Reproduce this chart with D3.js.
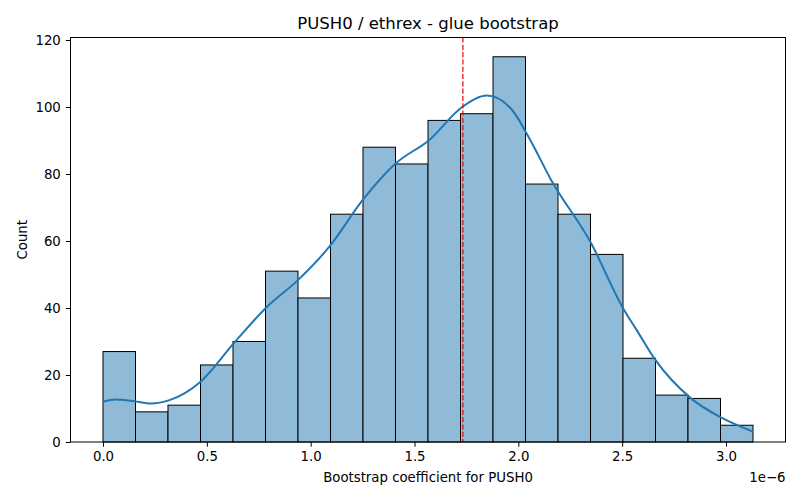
<!DOCTYPE html>
<html>
<head>
<meta charset="utf-8">
<script src="https://cdn.jsdelivr.net/npm/d3@7"></script>
<style>
  body { margin: 0; background: #fff; }
  svg { font-family: "DejaVu Sans", sans-serif; }
</style>
</head>
<body>
<svg id="chart" width="800" height="500"></svg>
<script>
// Histogram counts (x in units of 1e-6)
let binStart = 0.0;
let binWidth = 0.1565;
let binCounts = [27, 9, 11, 23, 30, 51, 43, 68, 88, 83, 96, 98, 115, 77, 68, 56, 25, 14, 13, 5];

// KDE curve (x, count)
let kdeX = [0.0, 0.06, 0.15, 0.23, 0.32, 0.47, 0.63, 0.79, 0.94, 1.09, 1.25, 1.41, 1.57, 1.73, 1.85, 1.97, 2.05, 2.16, 2.35, 2.50, 2.57, 2.66, 2.83, 2.98, 3.13];
let kdeY = [12.0, 12.7, 12.2, 11.5, 12.5, 18.0, 29.5, 40.4, 48.4, 58.3, 72.2, 83.2, 90.1, 100.0, 103.4, 99.1, 91.0, 78.0, 59.4, 40.4, 33.4, 24.5, 13.1, 7.2, 3.1];

// Reference line (mean)
let meanValue = 1.733;

let xTicks = [0.0, 0.5, 1.0, 1.5, 2.0, 2.5, 3.0];
let yTicks = [0, 20, 40, 60, 80, 100, 120];

let drawChart = () => {
    let margin = { top: 37.5, right: 14.5, bottom: 58, left: 70.5 };
    let width = 800 - margin.left - margin.right;
    let height = 500 - margin.top - margin.bottom;

    let svg = d3.select('#chart');
    let g = svg.append('g')
        .attr('transform', `translate(${margin.left},${margin.top})`);

    let bins = binCounts.map((c, i) => ({
        x0: binStart + i * binWidth,
        x1: binStart + (i + 1) * binWidth,
        count: c
    }));

    let xMin = binStart;
    let xMax = binStart + binCounts.length * binWidth;
    let pad = (xMax - xMin) * 0.05;
    let x = d3.scaleLinear().domain([xMin - pad, xMax + pad]).range([0, width]);
    let y = d3.scaleLinear().domain([0, d3.max(binCounts) * 1.05]).range([height, 0]);

    // Bars
    g.selectAll('rect.bar')
        .data(bins)
        .enter()
        .append('rect')
        .attr('class', 'bar')
        .attr('x', (d) => x(d.x0))
        .attr('y', (d) => y(d.count))
        .attr('width', (d) => x(d.x1) - x(d.x0))
        .attr('height', (d) => y(0) - y(d.count))
        .attr('fill', '#8fbbd9')
        .attr('stroke', '#000')
        .attr('stroke-width', 1);

    // KDE line
    let kde = kdeX.map((v, i) => ({ x: v, y: kdeY[i] }));
    let line = d3.line()
        .x((d) => x(d.x))
        .y((d) => y(d.y))
        .curve(d3.curveMonotoneX);
    g.append('path')
        .datum(kde)
        .attr('fill', 'none')
        .attr('stroke', '#1f77b4')
        .attr('stroke-width', 2)
        .attr('d', line);

    // Mean line
    g.append('line')
        .attr('x1', x(meanValue))
        .attr('x2', x(meanValue))
        .attr('y1', 0)
        .attr('y2', height)
        .attr('stroke', '#ee0000')
        .attr('stroke-width', 1.2)
        .attr('stroke-dasharray', '5.1,2.2');

    // Axes
    let xAxis = g.append('g')
        .attr('transform', `translate(0,${height})`)
        .call(d3.axisBottom(x).tickValues(xTicks).tickFormat(d3.format('.1f')).tickSizeOuter(0).tickSize(4.7).tickPadding(5));
    let yAxis = g.append('g')
        .call(d3.axisLeft(y).tickValues(yTicks).tickSizeOuter(0).tickSize(4.7).tickPadding(5));

    [xAxis, yAxis].forEach((a) => {
        a.selectAll('text').attr('font-size', 13.3).attr('fill', '#000').attr('font-family', '"DejaVu Sans", sans-serif');
        a.selectAll('line').attr('stroke', '#000');
        a.select('.domain').remove();
    });

    // Frame
    g.append('rect')
        .attr('width', width)
        .attr('height', height)
        .attr('fill', 'none')
        .attr('stroke', '#000')
        .attr('stroke-width', 1);

    // Title and labels
    svg.append('text')
        .attr('x', margin.left + width / 2)
        .attr('y', 29)
        .attr('text-anchor', 'middle')
        .attr('font-size', 16.5)
        .text('PUSH0 / ethrex - glue bootstrap');

    svg.append('text')
        .attr('x', margin.left + width / 2)
        .attr('y', 482)
        .attr('text-anchor', 'middle')
        .attr('font-size', 13.3)
        .text('Bootstrap coefficient for PUSH0');

    svg.append('text')
        .attr('x', margin.left + width)
        .attr('y', 482)
        .attr('text-anchor', 'end')
        .attr('font-size', 13.3)
        .text('1e\u22126');

    svg.append('text')
        .attr('transform', `translate(27,${margin.top + height / 2}) rotate(-90)`)
        .attr('text-anchor', 'middle')
        .attr('font-size', 13.3)
        .text('Count');
};

drawChart();
</script>
</body>
</html>
